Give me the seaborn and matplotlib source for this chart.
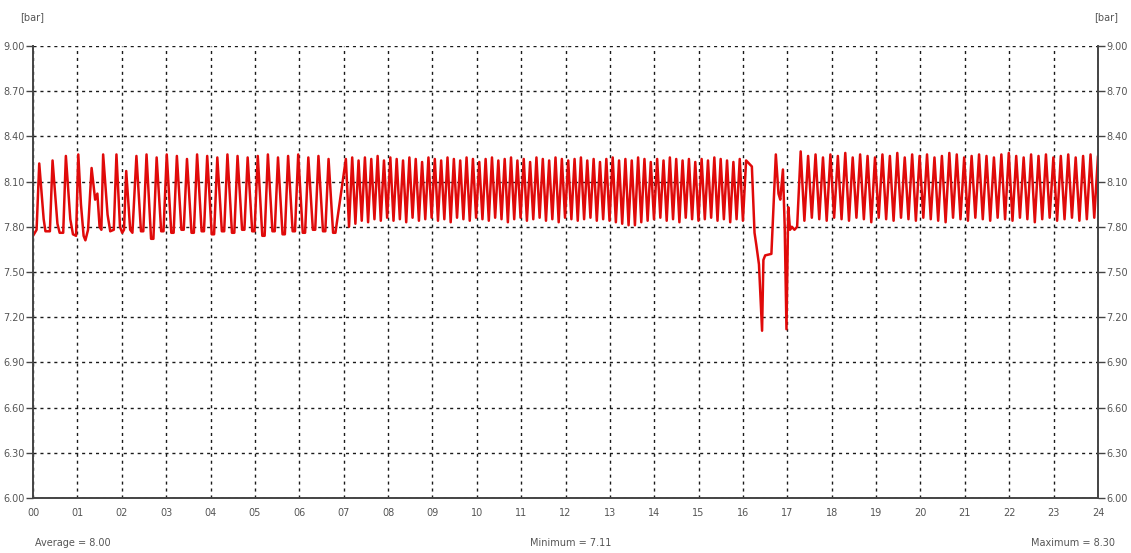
import numpy as np
import pandas as pd
import seaborn as sns
import matplotlib.pyplot as plt

# --- data (hours, bar) ---

# irregular start of the day
start_hours = [0.00, 0.08, 0.14, 0.24, 0.28, 0.38, 0.44, 0.55, 0.60, 0.68,
               0.74, 0.84, 0.90, 0.97, 1.02, 1.08, 1.14, 1.18, 1.24, 1.32,
               1.40, 1.45, 1.50, 1.54, 1.58, 1.68, 1.74, 1.82, 1.88, 1.96,
               2.01, 2.05, 2.10, 2.19, 2.24]
start_bar = [7.74, 7.78, 8.22, 7.85, 7.77, 7.77, 8.24, 7.82, 7.76, 7.76,
             8.27, 7.85, 7.75, 7.74, 8.28, 7.95, 7.74, 7.71, 7.78, 8.19,
             7.98, 8.02, 7.80, 7.78, 8.28, 7.88, 7.77, 7.78, 8.28, 7.80,
             7.76, 7.78, 8.17, 7.78, 7.76]

# slow cycles 02-07 h
slow_peaks = [8.27, 8.28, 8.26, 8.28, 8.27, 8.25, 8.28, 8.27,
              8.26, 8.28, 8.27, 8.26, 8.27, 8.28, 8.26, 8.27,
              8.28, 8.26, 8.27, 8.25]
slow_troughs = [7.77, 7.72, 7.77, 7.76, 7.78, 7.76, 7.77, 7.75,
                7.77, 7.76, 7.78, 7.77, 7.74, 7.77, 7.75, 7.77,
                7.76, 7.78, 7.77, 7.76]

# fast cycles 07-16 h
fast_peaks = [8.25, 8.26, 8.24, 8.26, 8.25, 8.27, 8.24, 8.26,
              8.25, 8.24, 8.26, 8.25, 8.23, 8.26, 8.25, 8.24,
              8.26, 8.25, 8.24, 8.26, 8.25, 8.23, 8.25, 8.26,
              8.24, 8.25, 8.26, 8.24, 8.25, 8.23, 8.26, 8.25,
              8.24, 8.26, 8.25, 8.24, 8.25, 8.26, 8.24, 8.25,
              8.23, 8.25, 8.26, 8.24, 8.25, 8.24, 8.26, 8.25,
              8.23, 8.25, 8.24, 8.26, 8.25, 8.24, 8.25, 8.23,
              8.25, 8.24, 8.26, 8.25, 8.24, 8.23, 8.25, 8.24]
fast_troughs = [7.80, 7.82, 7.84, 7.83, 7.85, 7.84, 7.86, 7.84,
                7.85, 7.83, 7.86, 7.84, 7.85, 7.86, 7.84, 7.85,
                7.83, 7.86, 7.85, 7.84, 7.86, 7.85, 7.84, 7.86,
                7.85, 7.83, 7.85, 7.86, 7.84, 7.85, 7.86, 7.84,
                7.85, 7.83, 7.86, 7.85, 7.84, 7.85, 7.86, 7.84,
                7.85, 7.84, 7.83, 7.82, 7.81, 7.81, 7.83, 7.84,
                7.85, 7.86, 7.84, 7.85, 7.83, 7.86, 7.85, 7.84,
                7.85, 7.86, 7.84, 7.85, 7.83, 7.85, 7.84]

# disturbance around 16-17 h
dip_hours = [16.20, 16.26, 16.30, 16.36, 16.43, 16.46, 16.50, 16.64, 16.74,
             16.80, 16.84, 16.90, 16.94, 16.98, 17.02, 17.06, 17.10, 17.16,
             17.22]
dip_bar = [8.20, 7.76, 7.68, 7.55, 7.11, 7.58, 7.61, 7.62, 8.28,
           8.02, 7.98, 8.18, 7.80, 7.12, 7.93, 7.78, 7.80, 7.78,
           7.80]

# evening cycles 17-24 h
late_peaks = [8.30, 8.27, 8.28, 8.26, 8.28, 8.27, 8.29, 8.26,
              8.28, 8.27, 8.26, 8.28, 8.27, 8.29, 8.26, 8.28,
              8.27, 8.28, 8.26, 8.27, 8.29, 8.28, 8.26, 8.27,
              8.28, 8.27, 8.26, 8.28, 8.29, 8.27, 8.26, 8.28,
              8.27, 8.28, 8.26, 8.27, 8.28, 8.26, 8.27, 8.28,
              8.27]
late_troughs = [7.84, 7.86, 7.85, 7.84, 7.86, 7.85, 7.84, 7.86,
                7.85, 7.83, 7.86, 7.85, 7.84, 7.86, 7.85, 7.84,
                7.86, 7.85, 7.84, 7.83, 7.86, 7.85, 7.84, 7.86,
                7.85, 7.84, 7.86, 7.85, 7.84, 7.86, 7.85, 7.83,
                7.85, 7.86, 7.84, 7.85, 7.86, 7.84, 7.85, 7.86]

hour_labels = [f'{h:02d}' for h in range(25)]
bar_ticks = [6.00, 6.30, 6.60, 6.90, 7.20, 7.50, 7.80, 8.10, 8.40, 8.70, 9.00]


def cycles(t0, t1, peaks, troughs, fall=0.5, hold=None):
    t = np.linspace(t0, t1, len(peaks))
    step = t[1] - t[0]
    hours, bar = [], []
    for i, p in enumerate(peaks):
        hours.append(t[i])
        bar.append(p)
        if i < len(troughs):
            hours.append(t[i] + fall * step)
            bar.append(troughs[i])
            if hold:
                hours.append(t[i] + hold * step)
                bar.append(troughs[i])
    return hours, bar


parts = [
    (start_hours, start_bar),
    cycles(2.33, 6.66, slow_peaks, slow_troughs, fall=0.45, hold=0.68),
    cycles(7.05, 16.07, fast_peaks, fast_troughs),
    (dip_hours, dip_bar),
    cycles(17.30, 24.0, late_peaks, late_troughs),
]
df = pd.DataFrame({
    'hour': np.concatenate([p[0] for p in parts]),
    'bar': np.concatenate([p[1] for p in parts]),
})

sns.set_style('white')
plt.rcParams['font.family'] = ['DejaVu Sans']

fig = plt.figure(figsize=(11.31, 5.53), dpi=100)
ax = fig.add_axes([0.0292, 0.0995, 0.9416, 0.8174])

sns.lineplot(data=df, x='hour', y='bar', sort=False, estimator=None,
             color='#e00a0a', linewidth=1.8, ax=ax)

ax.set_xlim(0, 24)
ax.set_ylim(6, 9)
ax.set_xticks(range(25))
ax.set_xticklabels(hour_labels)
ax.set_yticks(bar_ticks)
ax.set_yticklabels([f'{v:.2f}' for v in bar_ticks])
ax.set_xlabel('')
ax.set_ylabel('')
ax.grid(True, color='#1a1a1a', linestyle=(0, (2.2, 2.8)), linewidth=1.0)
ax.set_axisbelow(True)

for side in ['left', 'bottom']:
    ax.spines[side].set_color('#444444')
    ax.spines[side].set_linewidth(1.4)
ax.spines['top'].set_visible(False)
ax.spines['right'].set_visible(False)
ax.tick_params(axis='y', direction='out', length=5, width=1, color='#444444',
               labelsize=7, labelcolor='#555555', pad=1)
ax.tick_params(axis='x', direction='inout', length=7, width=1, color='#444444',
               labelsize=7, labelcolor='#555555', pad=4)

ax2 = ax.twinx()
ax2.set_ylim(6, 9)
ax2.set_yticks(bar_ticks)
ax2.set_yticklabels([f'{v:.2f}' for v in bar_ticks])
ax2.grid(False)
for side in ['left', 'top', 'bottom']:
    ax2.spines[side].set_visible(False)
ax2.spines['right'].set_color('#444444')
ax2.spines['right'].set_linewidth(1.4)
ax2.tick_params(axis='y', direction='out', length=5, width=1, color='#444444',
                labelsize=7, labelcolor='#555555', pad=1)

txt = dict(fontsize=7, color='#555555')
fig.text(0.018, 0.963, '[bar]', **txt)
fig.text(0.967, 0.963, '[bar]', **txt)
fig.text(0.031, 0.012, 'Average = 8.00', **txt)
fig.text(0.469, 0.012, 'Minimum = 7.11', **txt)
fig.text(0.912, 0.012, 'Maximum = 8.30', **txt)

fig.savefig('out.png', dpi=100)
plt.close(fig)
